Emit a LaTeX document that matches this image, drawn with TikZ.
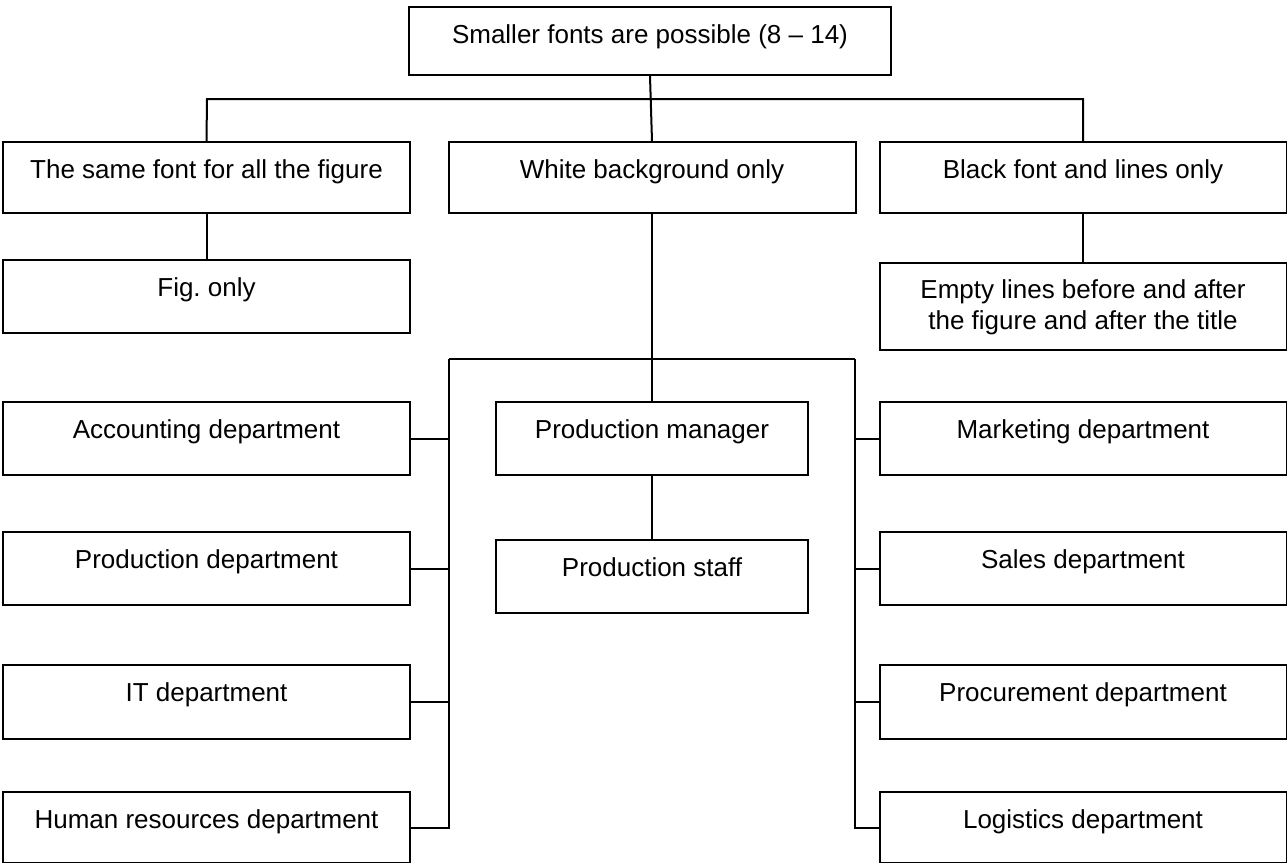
\documentclass[tikz,border=0pt]{standalone}
\usepackage{fontspec}
\setmainfont{Liberation Sans}
\frenchspacing
\begin{document}
\begin{tikzpicture}[x=0.5pt,y=-0.5pt,
  box/.style={draw, line width=1pt, inner sep=0pt, anchor=north,
    font=\fontsize{13pt}{15.5pt}\selectfont, text height=18pt},
  wide/.style={minimum width=203.5pt},
  mid/.style={minimum width=156pt},
  link/.style={line width=1pt}]
\path[fill=white,use as bounding box] (0,0) rectangle (1287,863);

% top
\node[box, minimum width=241pt, text depth=16pt] (top) at (650,6) {Smaller fonts are possible (8 -- 14)};

% second row
\node[box, wide, text depth=17.5pt] (same) at (206.5,141) {The same font for all the figure};
\node[box, wide, text depth=17.5pt] (white) at (652,141) {White background only};
\node[box, wide, text depth=17.5pt] (black) at (1083,141) {Black font and lines only};

% third row
\node[box, wide, text depth=18.5pt] (fig) at (206.5,259) {Fig.\ only};
\node[box, wide, text height=17.5pt, text depth=26pt] (empty) at (1083,262)
  {\begin{tabular}[t]{@{}c@{}}Empty lines before and after\\the figure and after the title\end{tabular}};

% middle column
\node[box, mid, text depth=18.5pt] (pm) at (652,401) {Production manager};
\node[box, mid, text depth=18.5pt] (ps) at (652,539) {Production staff};

% left column
\node[box, wide, text depth=18.5pt] (acc) at (206.5,401) {Accounting department};
\node[box, wide, text depth=18.5pt] (prod) at (206.5,531) {Production department};
\node[box, wide, text depth=19pt] (it) at (206.5,664) {IT department};
\node[box, wide, text depth=17.5pt] (hr) at (206.5,791) {Human resources department};

% right column
\node[box, wide, text depth=18.5pt] (mkt) at (1083,401) {Marketing department};
\node[box, wide, text depth=18.5pt] (sales) at (1083,531) {Sales department};
\node[box, wide, text depth=19pt] (proc) at (1083,664) {Procurement department};
\node[box, wide, text depth=17.5pt] (log) at (1083,791) {Logistics department};

% junction points
\coordinate (barL) at (207,99);
\coordinate (barR) at (1083,99);
\coordinate (lv) at (449,359);
\coordinate (rv) at (855,359);

% connectors
\draw[link] (top.south) -- (white.north);
\draw[link] (same.north) -- (barL) -- (barR) -- (black.north);
\draw[link] (same.south) -- (fig.north);
\draw[link] (black.south) -- (empty.north);
\draw[link] (white.south) -- (pm.north);
\draw[link] (pm.south) -- (ps.north);
\draw[link] (lv) -- (rv);
\draw[link] (lv) -- (lv |- hr.east) -- (hr.east);
\draw[link] (rv) -- (rv |- log.west) -- (log.west);
\draw[link] (acc.east) -- (acc.east -| lv);
\draw[link] (prod.east) -- (prod.east -| lv);
\draw[link] (it.east) -- (it.east -| lv);
\draw[link] (mkt.west) -- (mkt.west -| rv);
\draw[link] (sales.west) -- (sales.west -| rv);
\draw[link] (proc.west) -- (proc.west -| rv);
\end{tikzpicture}
\end{document}
